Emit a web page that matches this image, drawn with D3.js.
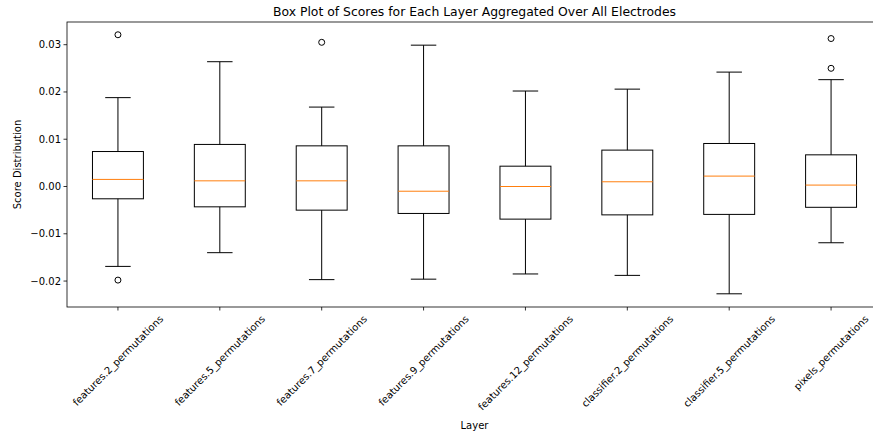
<!DOCTYPE html>
<html>
<head>
<meta charset="utf-8">
<script src="https://cdn.jsdelivr.net/npm/d3@7"></script>
<style>
  body { margin: 0; background: #fff; }
  svg { display: block; font-family: "DejaVu Sans", sans-serif; }
</style>
</head>
<body>
<div id="chart"></div>
<script>
// values
var layers = ["features.2_permutations", "features.5_permutations", "features.7_permutations",
    "features.9_permutations", "features.12_permutations", "classifier.2_permutations",
    "classifier.5_permutations", "pixels_permutations"];
var whiskerLow  = [-0.0169, -0.0140, -0.0197, -0.0196, -0.0185, -0.0188, -0.0227, -0.0119];
var q1          = [-0.0026, -0.0043, -0.0050, -0.0057, -0.0069, -0.0060, -0.0059, -0.0044];
var medians     = [ 0.0015,  0.0012,  0.0012, -0.0010, -0.0000,  0.0010,  0.0022,  0.0003];
var q3          = [ 0.0074,  0.0089,  0.0086,  0.0086,  0.0043,  0.0077,  0.0091,  0.0067];
var whiskerHigh = [ 0.0188,  0.0264,  0.0168,  0.0299,  0.0202,  0.0206,  0.0242,  0.0226];
var outliers    = [[0.0321, -0.0198], [], [0.0305], [], [], [], [], [0.0313, 0.0250]];
var yTicks = [-0.02, -0.01, 0.00, 0.01, 0.02, 0.03];

var width = 873, height = 438;
var margin = {left: 67, top: 22, right: -9, bottom: 131};

var svg = d3.select("#chart").append("svg")
    .attr("width", width)
    .attr("height", height);

var x = d3.scaleLinear()
    .domain([0.5, layers.length + 0.5])
    .range([margin.left, width - margin.right]);
var y = d3.scaleLinear()
    .domain([-0.02549, 0.0348])
    .range([height - margin.bottom, margin.top]);

var boxW = x(1.25) - x(1);
var capW = x(1.125) - x(1);
var fmt = d3.format(".2f");

// title
svg.append("text")
    .attr("x", (x(0.5) + x(layers.length + 0.5)) / 2)
    .attr("y", 16)
    .attr("text-anchor", "middle")
    .attr("font-size", 12.4)
    .text("Box Plot of Scores for Each Layer Aggregated Over All Electrodes");

// boxes
var g = svg.append("g").attr("class", "boxes");
layers.forEach(function(d, i){
    var cx = x(i + 1);
    var grp = g.append("g");
    grp.append("line")
        .attr("x1", cx).attr("x2", cx)
        .attr("y1", y(q1[i])).attr("y2", y(whiskerLow[i]))
        .attr("stroke", "#000").attr("stroke-width", 1);
    grp.append("line")
        .attr("x1", cx).attr("x2", cx)
        .attr("y1", y(q3[i])).attr("y2", y(whiskerHigh[i]))
        .attr("stroke", "#000").attr("stroke-width", 1);
    [whiskerLow[i], whiskerHigh[i]].forEach(function(v){
        grp.append("line")
            .attr("x1", cx - capW).attr("x2", cx + capW)
            .attr("y1", y(v)).attr("y2", y(v))
            .attr("stroke", "#000").attr("stroke-width", 1);
    });
    grp.append("rect")
        .attr("x", cx - boxW)
        .attr("y", y(q3[i]))
        .attr("width", boxW * 2)
        .attr("height", y(q1[i]) - y(q3[i]))
        .attr("fill", "none")
        .attr("stroke", "#000").attr("stroke-width", 1);
    grp.append("line")
        .attr("x1", cx - boxW).attr("x2", cx + boxW)
        .attr("y1", y(medians[i])).attr("y2", y(medians[i]))
        .attr("stroke", "#ff7f0e").attr("stroke-width", 1);
    outliers[i].forEach(function(v){
        grp.append("circle")
            .attr("cx", cx).attr("cy", y(v))
            .attr("r", 3)
            .attr("fill", "none")
            .attr("stroke", "#000").attr("stroke-width", 1);
    });
});

// frame
var x0 = x(0.5), x1 = x(layers.length + 0.5), yb = y.range()[0], yt = y.range()[1];
svg.append("rect")
    .attr("x", x0).attr("y", yt)
    .attr("width", x1 - x0).attr("height", yb - yt)
    .attr("fill", "none")
    .attr("stroke", "#000").attr("stroke-width", 0.8);

// y axis
yTicks.forEach(function(t){
    svg.append("line")
        .attr("x1", x0 - 3.5).attr("x2", x0)
        .attr("y1", y(t)).attr("y2", y(t))
        .attr("stroke", "#000").attr("stroke-width", 0.8);
    svg.append("text")
        .attr("x", x0 - 6)
        .attr("y", y(t))
        .attr("dy", "0.35em")
        .attr("text-anchor", "end")
        .attr("font-size", 10)
        .text(fmt(t));
});
svg.append("text")
    .attr("transform", "translate(" + 21 + "," + ((yt + yb) / 2) + ") rotate(-90)")
    .attr("text-anchor", "middle")
    .attr("font-size", 10)
    .text("Score Distribution");

// x axis
layers.forEach(function(d, i){
    var cx = x(i + 1);
    svg.append("line")
        .attr("x1", cx).attr("x2", cx)
        .attr("y1", yb).attr("y2", yb + 3.5)
        .attr("stroke", "#000").attr("stroke-width", 0.8);
    var t = svg.append("text")
        .attr("text-anchor", "middle")
        .attr("dominant-baseline", "central")
        .attr("font-size", 10)
        .text(d);
    var L = t.node().getComputedTextLength();
    var half = (L + 11.6) * Math.SQRT1_2 / 2;
    t.attr("transform", "translate(" + cx + "," + (yb + 6 + half) + ") rotate(-45)");
});
svg.append("text")
    .attr("x", (x0 + x1) / 2)
    .attr("y", 429)
    .attr("text-anchor", "middle")
    .attr("font-size", 10)
    .text("Layer");
</script>
</body>
</html>
